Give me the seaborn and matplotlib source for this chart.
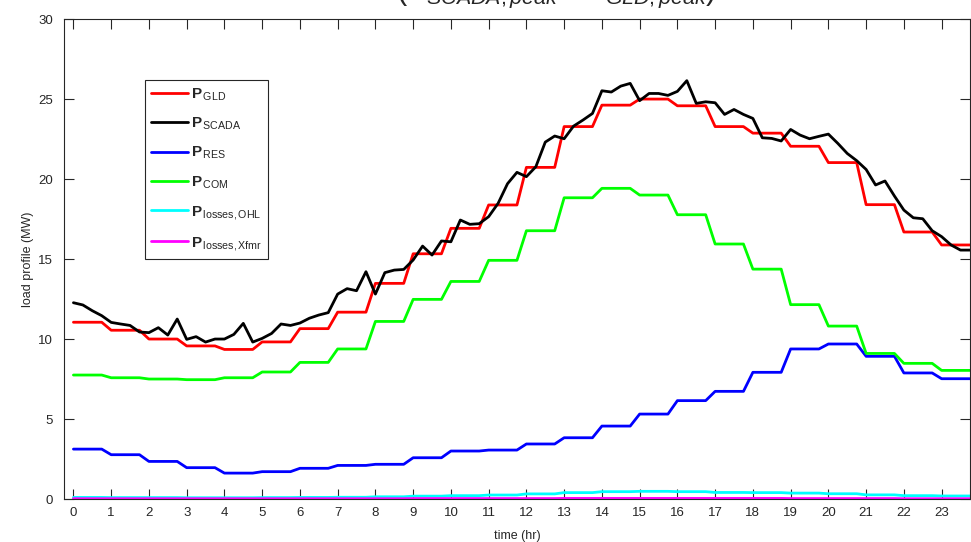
import numpy as np
import pandas as pd
import matplotlib
matplotlib.use("Agg")
import matplotlib.pyplot as plt
import seaborn as sns

# hourly values (MW), each hour held for four 15-min samples
hours = np.arange(24)
p_gld = [11.05, 10.55, 10.0, 9.57, 9.35, 9.82, 10.65, 11.68, 13.48, 15.33, 16.92, 18.38,
         20.73, 23.28, 24.62, 25.0, 24.58, 23.28, 22.87, 22.05, 21.03, 18.4, 16.69, 15.88]
p_res = [3.12, 2.77, 2.35, 1.96, 1.62, 1.71, 1.92, 2.1, 2.17, 2.58, 3.0, 3.06,
         3.44, 3.83, 4.56, 5.31, 6.15, 6.73, 7.92, 9.38, 9.69, 8.92, 7.88, 7.52]
p_com = [7.75, 7.58, 7.5, 7.46, 7.58, 7.94, 8.54, 9.38, 11.1, 12.48, 13.6, 14.92,
         16.77, 18.83, 19.42, 19.0, 17.77, 15.94, 14.37, 12.15, 10.81, 9.1, 8.48, 8.04]
p_ohl = [0.1, 0.09, 0.09, 0.08, 0.08, 0.09, 0.1, 0.11, 0.14, 0.18, 0.21, 0.25,
         0.32, 0.4, 0.46, 0.48, 0.46, 0.41, 0.4, 0.37, 0.33, 0.26, 0.21, 0.19]
p_xfmr = [0.02, 0.02, 0.02, 0.02, 0.02, 0.02, 0.02, 0.02, 0.02, 0.03, 0.03, 0.03,
          0.03, 0.04, 0.04, 0.04, 0.04, 0.04, 0.04, 0.03, 0.03, 0.03, 0.02, 0.02]

# SCADA measurements every 15 min
p_scada = [12.27, 12.13, 11.77, 11.46, 11.04, 10.94, 10.85, 10.44,
           10.40, 10.71, 10.25, 11.25, 9.98, 10.15, 9.81, 10.00,
           10.00, 10.29, 10.98, 9.81, 10.04, 10.35, 10.94, 10.85,
           11.00, 11.30, 11.50, 11.65, 12.81, 13.15, 13.02, 14.21,
           12.81, 14.15, 14.31, 14.35, 14.94, 15.81, 15.25, 16.13,
           16.08, 17.44, 17.17, 17.21, 17.65, 18.48, 19.71, 20.42,
           20.15, 20.77, 22.31, 22.69, 22.52, 23.31, 23.69, 24.10,
           25.52, 25.44, 25.81, 25.98, 24.90, 25.35, 25.35, 25.23,
           25.48, 26.15, 24.73, 24.83, 24.77, 24.04, 24.35, 24.04,
           23.79, 22.58, 22.54, 22.38, 23.10, 22.75, 22.52, 22.67,
           22.81, 22.23, 21.60, 21.15, 20.60, 19.63, 19.88, 18.94,
           18.06, 17.58, 17.52, 16.77, 16.40, 15.88, 15.56, 15.56]

labels = [r'$\mathbf{P}_{\,\mathrm{GLD}}$', r'$\mathbf{P}_{\,\mathrm{SCADA}}$', r'$\mathbf{P}_{\,\mathrm{RES}}$',
          r'$\mathbf{P}_{\,\mathrm{COM}}$', r'$\mathbf{P}_{\,\mathrm{losses,OHL}}$',
          r'$\mathbf{P}_{\,\mathrm{losses,Xfmr}}$']
colors = ['#ff0000', '#000000', '#0000ff', '#00ff00', '#00ffff', '#ff00ff']

t = np.arange(96) * 0.25
df = pd.DataFrame({'time': t,
                   labels[0]: np.repeat(p_gld, 4),
                   labels[1]: p_scada,
                   labels[2]: np.repeat(p_res, 4),
                   labels[3]: np.repeat(p_com, 4),
                   labels[4]: np.repeat(p_ohl, 4),
                   labels[5]: np.repeat(p_xfmr, 4)})
long = df.melt(id_vars='time', var_name='series', value_name='load')

sns.set_style('ticks')
plt.rcParams['font.family'] = ['Liberation Sans', 'DejaVu Sans']
plt.rcParams['mathtext.fontset'] = 'custom'
plt.rcParams['mathtext.rm'] = 'Liberation Sans'
plt.rcParams['mathtext.it'] = 'Liberation Sans:italic'
plt.rcParams['mathtext.bf'] = 'Liberation Sans:bold'

fig = plt.figure(figsize=(9.71, 5.42), dpi=100)
ax = fig.add_axes([0.0659, 0.0793, 0.933, 0.8855])
sns.lineplot(data=long, x='time', y='load', hue='series', hue_order=labels,
             palette=colors, linewidth=2, ax=ax, legend=True)

ax.set_xlim(-0.25, 23.75)
ax.set_ylim(0, 30)
ax.set_xticks(hours)
ax.set_yticks(np.arange(0, 31, 5))
ax.tick_params(direction='in', top=True, right=True, length=7, width=0.8,
               colors='#262626', labelsize=9.5)
ax.tick_params(axis='y', pad=8)
ax.tick_params(axis='x', pad=6)
for s in ax.spines.values():
    s.set_color('#262626')
    s.set_linewidth(0.8)
ax.set_xlabel('time (hr)', fontsize=9, color='#262626', labelpad=8)
ax.set_ylabel('load profile (MW)', fontsize=9, color='#262626', labelpad=3)

h, l = ax.get_legend_handles_labels()
leg = ax.legend(h, l, loc='upper left', bbox_to_anchor=(0.0894, 0.873), fontsize=11,
                frameon=True, fancybox=False, edgecolor='#262626', framealpha=1,
                handlelength=2.4, handletextpad=0.2, labelspacing=0.85,
                borderpad=0.4, borderaxespad=0)
leg.get_frame().set_linewidth(0.8)

# title sits mostly above the figure edge, as in the source
fig.text(0.573, 1 + 1 / 542, r'$(P_{SCADA,peak} - P_{GLD,peak})$', ha='center',
         va='baseline', fontsize=22)

fig.savefig('out.png', dpi=100)
